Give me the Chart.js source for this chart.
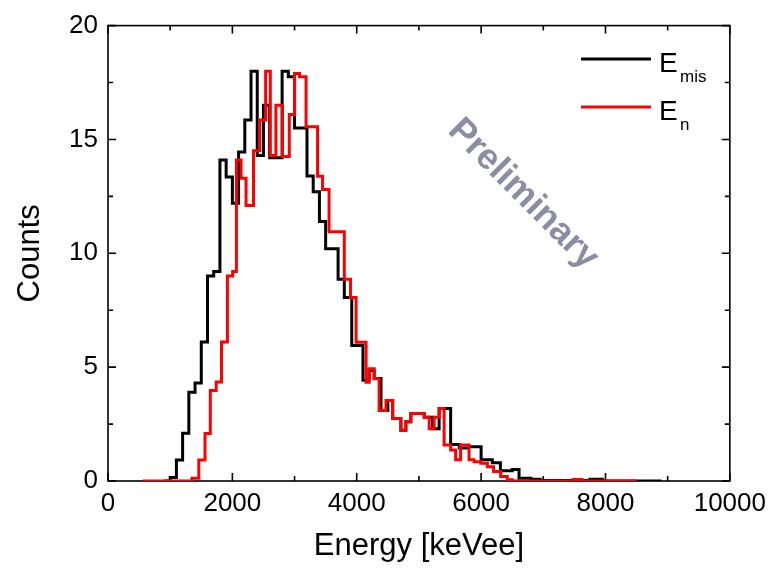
<!DOCTYPE html>
<html>
<head>
<meta charset="utf-8">
<title>Energy spectrum</title>
<script src="https://cdn.jsdelivr.net/npm/chart.js@4.4.1/dist/chart.umd.min.js"></script>
<style>
  html, body { margin: 0; padding: 0; background: #fff; }
  #wrap { width: 773px; height: 569px; }
</style>
</head>
<body>
<div id="wrap"><canvas id="spec" width="773" height="569"></canvas></div>
<script>
// bin edges (keVee) and counts for E_mis
var misEdges = [900, 1000, 1100, 1200, 1300, 1400, 1500, 1600, 1700, 1800, 1900, 2000, 2100, 2200, 2300,
  2400, 2500, 2600, 2800, 2900, 3000, 3200, 3300, 3400, 3500, 3700, 3800, 3920, 4100, 4200, 4280,
  4390, 4500, 4580, 4710, 4790, 4870, 5085, 5220, 5325, 5510, 5650, 5800, 6000, 6180, 6310, 6500,
  6610, 6800, 6950, 7750, 7950, 8900];
var misCounts = [0, 0.15, 0.92, 2.1, 3.9, 4.3, 6.1, 9.0, 9.2, 14.1, 13.35, 12.2, 14.45, 15.85,
  18.0, 14.3, 16.5, 14.2, 18.0, 17.75, 15.5, 13.4, 12.7, 11.4, 10.2, 8.86, 8.06, 5.95, 4.42, 4.85,
  4.5, 3.1, 3.54, 2.74, 2.23, 2.6, 2.96, 2.8, 2.3, 3.18, 1.6, 1.45, 1.5, 0.93, 0.8, 0.45,
  0.5, 0.12, 0.08, 0.02, 0.08, 0];

// bin edges (keVee) and counts for E_n
var nEdges = [560, 1350, 1460, 1560, 1645, 1740, 1825, 1920, 2005, 2065, 2140, 2220, 2340, 2440,
  2535, 2610, 2700, 2805, 2915, 3000, 3080, 3185, 3370, 3450, 3555, 3800, 3900, 3990, 4150, 4200,
  4280, 4360, 4470, 4575, 4710, 4790, 4870, 5085, 5165, 5245, 5325, 5405, 5510, 5590, 5670, 5806,
  5886, 5993, 6100, 6200, 6314, 6420, 6500, 7480, 7620, 8500];
var nCounts = [0, 0.12, 0.92, 2.09, 3.98, 4.35, 6.1, 9.0, 9.2, 14.1, 13.3, 12.1, 14.5, 15.85,
  18.0, 14.3, 16.5, 14.25, 16.1, 17.9, 17.75, 15.56, 13.38, 12.8, 10.95, 8.86, 8.06, 6.09, 4.34,
  4.93, 4.49, 3.1, 3.54, 2.74, 2.23, 2.6, 2.96, 2.8, 2.3, 2.8, 3.18, 1.58, 1.36, 0.93, 1.58,
  0.93, 0.85, 0.78, 0.63, 0.42, 0.2, 0.05, 0, 0.07, 0];

var xRange = [0, 10000];
var yRange = [0, 20];

var FONT = "'Liberation Sans', Arial, Helvetica, sans-serif";

// turn edges + counts into step points
function histPoints(edges, counts) {
  var pts = [];
  for (var i = 0; i < counts.length; i++) {
    pts.push({ x: edges[i], y: counts[i] });
  }
  pts.push({ x: edges[edges.length - 1], y: 0 });
  return pts;
}

// box frame with inward ticks, legend and watermark
var framePlugin = {
  id: 'frame',
  beforeDatasetsDraw: function(chart) {
    var ctx = chart.ctx, a = chart.chartArea;
    var xs = chart.scales.x, ys = chart.scales.y;
    ctx.save();
    ctx.strokeStyle = '#000';
    ctx.lineWidth = 1.6;
    ctx.strokeRect(a.left, a.top, a.right - a.left, a.bottom - a.top);
    ctx.beginPath();
    for (var v = xRange[0]; v <= xRange[1]; v += 1000) {
      var px = xs.getPixelForValue(v);
      var len = (v % 2000 === 0) ? 8 : 5;
      ctx.moveTo(px, a.bottom); ctx.lineTo(px, a.bottom - len);
      ctx.moveTo(px, a.top); ctx.lineTo(px, a.top + len);
    }
    for (var c = yRange[0]; c <= yRange[1]; c += 2.5) {
      var py = ys.getPixelForValue(c);
      var l2 = (c % 5 === 0) ? 8 : 5;
      ctx.moveTo(a.left, py); ctx.lineTo(a.left + l2, py);
      ctx.moveTo(a.right, py); ctx.lineTo(a.right - l2, py);
    }
    ctx.stroke();
    ctx.restore();
  },
  afterDraw: function(chart) {
    var ctx = chart.ctx;
    ctx.save();
    // legend
    var items = [
      { color: '#000000', sub: 'mis', y: 59 },
      { color: '#ff0000', sub: 'n', y: 107 }
    ];
    items.forEach(function(it) {
      ctx.strokeStyle = it.color;
      ctx.lineWidth = 3;
      ctx.beginPath();
      ctx.moveTo(581, it.y);
      ctx.lineTo(651, it.y);
      ctx.stroke();
      ctx.fillStyle = '#000';
      ctx.textAlign = 'left';
      ctx.textBaseline = 'alphabetic';
      ctx.font = '28px ' + FONT;
      ctx.fillText('E', 659, it.y + 13);
      ctx.font = '17px ' + FONT;
      ctx.fillText(it.sub, 680, it.y + 22.5);
    });
    // watermark
    ctx.translate(523, 194);
    ctx.rotate(Math.PI / 4);
    ctx.fillStyle = '#8c8ca4';
    ctx.font = 'bold 36px ' + FONT;
    ctx.textAlign = 'center';
    ctx.textBaseline = 'middle';
    ctx.fillText('Preliminary', 0, 0);
    ctx.restore();
  }
};

new Chart(document.getElementById('spec').getContext('2d'), {
  type: 'line',
  data: {
    datasets: [{
      label: 'E_n',
      data: histPoints(nEdges, nCounts),
      borderColor: '#ff0000',
      borderWidth: 3,
      stepped: true,
      pointRadius: 0,
      fill: false,
      order: 0
    }, {
      label: 'E_mis',
      data: histPoints(misEdges, misCounts),
      borderColor: '#000000',
      borderWidth: 3,
      stepped: true,
      pointRadius: 0,
      fill: false,
      order: 1
    }]
  },
  options: {
    responsive: false,
    animation: false,
    parsing: false,
    layout: { padding: { top: 23, right: 41, left: 0, bottom: 0 } },
    plugins: { legend: { display: false }, tooltip: { enabled: false } },
    scales: {
      x: {
        type: 'linear',
        min: xRange[0], max: xRange[1],
        grid: { display: false, drawTicks: false },
        border: { display: false },
        ticks: { stepSize: 2000, color: '#000', padding: 7, maxRotation: 0,
          font: { family: FONT, size: 26 },
          callback: function(v) { return String(v); } },
        title: { display: true, text: 'Energy [keVee]', color: '#000',
          font: { family: FONT, size: 31 }, padding: { top: 0, bottom: 4 } },
        afterFit: function(s) { s.height = 88; }
      },
      y: {
        type: 'linear',
        min: yRange[0], max: yRange[1],
        grid: { display: false, drawTicks: false },
        border: { display: false },
        ticks: { stepSize: 5, color: '#000', padding: 10,
          font: { family: FONT, size: 26 },
          callback: function(v) { return String(v); } },
        title: { display: true, text: 'Counts', color: '#000',
          font: { family: FONT, size: 31 }, padding: { top: 12, bottom: 0 } },
        afterFit: function(s) { s.width = 108; }
      }
    }
  },
  plugins: [framePlugin]
});
</script>
</body>
</html>
